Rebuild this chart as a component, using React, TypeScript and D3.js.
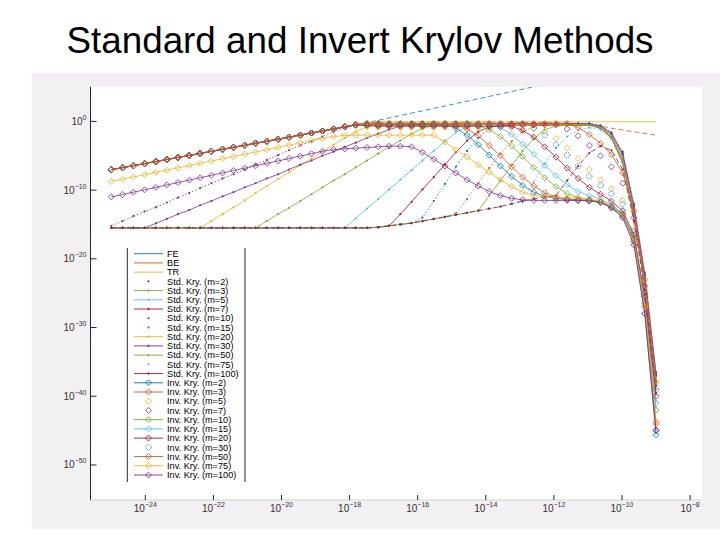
import React, { useEffect, useRef } from 'react';
import * as d3 from 'd3';

// log10 of the step size h (50 points, 1e-25 ... 1e-9)
const logH = [-25.0, -24.67, -24.35, -24.02, -23.69, -23.37, -23.04, -22.71, -22.39, -22.06, -21.73, -21.41, -21.08, -20.76, -20.43, -20.1, -19.78, -19.45, -19.12, -18.8, -18.47, -18.14, -17.82, -17.49, -17.16, -16.84, -16.51, -16.18, -15.86, -15.53, -15.2, -14.88, -14.55, -14.22, -13.9, -13.57, -13.24, -12.92, -12.59, -12.27, -11.94, -11.61, -11.29, -10.96, -10.63, -10.31, -9.98, -9.65, -9.33, -9.0];

// shared rising part of the top line (i = 0..21), log10 values
const topLeft = [-7.03, -6.73, -6.44, -6.14, -5.84, -5.55, -5.25, -4.95, -4.66, -4.36, -4.06, -3.77, -3.47, -3.18, -2.88, -2.58, -2.29, -1.99, -1.69, -1.4, -1.1, -0.79];

const fe = [...topLeft, -0.5, -0.2, 0.15, 0.5, 0.85, 1.2, 1.54, 1.89, 2.24, 2.59, 2.94, 3.29, 3.64, 3.99, 4.35, 4.69, 5.04, 5.39, 5.74, 6.09, 6.44, 6.79, 7.15, 7.49, 7.84, 8.19, 8.54, 8.89];
const be = [...topLeft, -0.45, -0.25, -0.15, -0.1, -0.1, -0.1, -0.1, -0.1, -0.1, -0.1, -0.1, -0.1, -0.1, -0.1, -0.12, -0.14, -0.16, -0.18, -0.2, -0.24, -0.3, -0.45, -0.7, -0.98, -1.25, -1.5, -1.75, -2.0];
const tr = [...topLeft, -0.4, -0.15, -0.05, -0.05, -0.05, -0.05, -0.05, -0.05, -0.05, -0.05, -0.05, -0.05, -0.05, -0.05, -0.05, -0.05, -0.05, -0.05, -0.05, -0.05, -0.05, -0.05, -0.05, -0.05, -0.05, -0.05, -0.05, -0.05];

const std2 = [-15.2, -14.5, -13.8, -13.1, -12.5, -11.8, -11.1, -10.4, -9.7, -9.0, -8.3, -7.7, -7.0, -6.3, -5.6, -4.9, -4.2, -3.5, -2.9, -2.2, -1.5, -0.9, -0.5, -0.3, -0.3, -0.3, -0.3, -0.3, -0.3, -0.3, -0.3, -0.3, -0.3, -0.3, -0.3, -0.3, -0.3, -0.3, -0.3, -0.3, -0.3, -0.3, -0.3, -0.3, -0.6, -1.6, -4.4, -12.0, -22.0, -36.5];
const std3 = [-15.5, -15.5, -15.5, -15.5, -15.5, -15.5, -15.5, -15.5, -15.5, -15.5, -15.5, -15.5, -15.5, -15.5, -14.5, -13.5, -12.6, -11.6, -10.6, -9.6, -8.6, -7.7, -6.7, -5.7, -4.7, -3.7, -2.8, -1.8, -1.0, -0.65, -0.5, -0.5, -0.5, -0.5, -0.5, -0.5, -0.5, -0.5, -0.5, -0.5, -0.5, -0.5, -0.5, -0.5, -0.9, -2.2, -5.6, -13.5, -23.5, -38.0];
const std5 = [-15.5, -15.5, -15.5, -15.5, -15.5, -15.5, -15.5, -15.5, -15.5, -15.5, -15.5, -15.5, -15.5, -15.5, -15.5, -15.5, -15.5, -15.5, -15.5, -15.5, -15.5, -15.5, -14.1, -12.7, -11.3, -9.9, -8.5, -7.1, -5.7, -4.3, -2.9, -1.6, -0.8, -0.5, -0.4, -0.4, -0.4, -0.4, -0.4, -0.4, -0.4, -0.4, -0.4, -0.4, -0.7, -1.9, -5.0, -12.8, -22.8, -37.2];
const std7 = [-15.5, -15.5, -15.5, -15.5, -15.5, -15.5, -15.5, -15.5, -15.5, -15.5, -15.5, -15.5, -15.5, -15.5, -15.5, -15.5, -15.5, -15.5, -15.5, -15.5, -15.5, -15.5, -15.5, -15.5, -15.4, -15.2, -13.5, -11.7, -9.9, -8.1, -6.3, -4.5, -2.8, -1.5, -0.8, -0.6, -0.55, -0.55, -0.55, -0.55, -0.55, -0.55, -0.55, -0.55, -1.0, -2.4, -6.0, -14.0, -24.0, -38.5];
const std10 = [-15.5, -15.5, -15.5, -15.5, -15.5, -15.5, -15.5, -15.5, -15.5, -15.5, -15.5, -15.5, -15.5, -15.5, -15.5, -15.5, -15.5, -15.5, -15.5, -15.5, -15.5, -15.5, -15.5, -15.5, -15.4, -15.2, -15.0, -14.8, -14.0, -11.6, -9.1, -6.6, -4.3, -2.4, -1.1, -0.5, -0.3, -0.3, -0.3, -0.3, -0.3, -0.3, -0.3, -0.3, -0.6, -1.7, -4.6, -12.2, -22.2, -36.8];
const std15 = [-15.5, -15.5, -15.5, -15.5, -15.5, -15.5, -15.5, -15.5, -15.5, -15.5, -15.5, -15.5, -15.5, -15.5, -15.5, -15.5, -15.5, -15.5, -15.5, -15.5, -15.5, -15.5, -15.5, -15.5, -15.4, -15.2, -15.0, -14.8, -14.5, -14.2, -13.9, -13.4, -11.3, -9.0, -6.8, -4.7, -2.9, -1.5, -0.8, -0.5, -0.5, -0.5, -0.5, -0.5, -0.8, -2.1, -5.4, -13.2, -23.2, -37.8];
const std20 = [-15.5, -15.5, -15.5, -15.5, -15.5, -15.5, -15.5, -15.5, -15.5, -14.5, -13.5, -12.5, -11.5, -10.4, -9.4, -8.4, -7.4, -6.4, -5.4, -4.4, -3.4, -2.4, -1.5, -0.8, -0.55, -0.45, -0.45, -0.45, -0.45, -0.45, -0.45, -0.45, -0.45, -0.45, -0.45, -0.45, -0.45, -0.45, -0.45, -0.45, -0.45, -0.45, -0.45, -0.45, -0.8, -2.0, -5.2, -13.0, -23.0, -37.5];
const std30 = [-15.5, -15.5, -15.5, -15.5, -14.85, -14.2, -13.5, -12.9, -12.2, -11.6, -10.9, -10.3, -9.6, -9.0, -8.3, -7.7, -7.0, -6.3, -5.7, -5.0, -4.4, -3.7, -3.1, -2.4, -1.8, -1.2, -0.7, -0.45, -0.35, -0.35, -0.35, -0.35, -0.35, -0.35, -0.35, -0.35, -0.35, -0.35, -0.35, -0.35, -0.35, -0.35, -0.35, -0.35, -0.7, -1.8, -4.8, -12.5, -22.5, -37.0];
const std50 = [-15.5, -15.5, -15.5, -15.5, -15.5, -15.5, -15.5, -15.5, -15.5, -15.5, -15.5, -15.5, -15.5, -15.5, -15.5, -15.5, -15.5, -15.5, -15.5, -15.5, -15.5, -15.5, -15.5, -15.5, -15.4, -15.2, -15.0, -14.8, -14.5, -14.2, -13.9, -13.6, -13.3, -13.0, -10.8, -8.6, -6.4, -4.3, -2.5, -1.2, -0.7, -0.55, -0.55, -0.55, -0.9, -2.3, -5.8, -13.6, -23.6, -38.2];
const std75 = [-15.5, -15.5, -15.5, -15.5, -15.5, -15.5, -15.5, -15.5, -15.5, -15.5, -15.5, -15.5, -15.5, -15.5, -15.5, -15.5, -15.5, -15.5, -15.5, -15.5, -15.5, -15.5, -15.5, -15.5, -15.4, -15.2, -15.0, -14.8, -14.5, -14.2, -13.9, -13.6, -13.3, -13.0, -12.7, -12.4, -12.0, -11.6, -8.8, -6.2, -3.9, -2.2, -1.3, -0.9, -1.2, -2.6, -6.2, -14.2, -24.2, -39.0];
const std100 = [-15.5, -15.5, -15.5, -15.5, -15.5, -15.5, -15.5, -15.5, -15.5, -15.5, -15.5, -15.5, -15.5, -15.5, -15.5, -15.5, -15.5, -15.5, -15.5, -15.5, -15.5, -15.5, -15.5, -15.5, -15.4, -15.2, -15.0, -14.8, -14.5, -14.2, -13.9, -13.6, -13.3, -13.0, -12.7, -12.4, -12.0, -11.6, -11.3, -11.0, -10.8, -8.6, -6.5, -4.6, -3.6, -4.2, -7.0, -14.5, -24.5, -39.5];

const inv2 = [...topLeft, -0.5, -0.35, -0.4, -0.4, -0.4, -0.4, -0.4, -0.4, -0.4, -1.0, -2.0, -3.4, -4.9, -6.5, -8.0, -9.3, -10.3, -10.9, -11.2, -11.4, -11.5, -11.6, -11.8, -12.5, -13.8, -17.5, -28.0, -45.6];
const inv3 = [...topLeft, -0.5, -0.4, -0.5, -0.5, -0.5, -0.5, -0.5, -0.5, -0.5, -0.5, -1.1, -2.1, -3.5, -5.0, -6.6, -8.1, -9.4, -10.4, -11.0, -11.3, -11.4, -11.5, -11.7, -12.4, -13.6, -17.2, -27.0, -44.0];
const inv5 = [...topLeft, -0.6, -0.8, -0.9, -0.9, -0.9, -0.9, -0.9, -0.9, -0.9, -0.9, -0.9, -0.9, -0.9, -0.9, -0.9, -0.9, -0.9, -1.5, -2.5, -3.9, -5.4, -7.0, -8.5, -9.8, -11.5, -15.5, -24.5, -43.7];
const inv7 = [...topLeft, -0.5, -0.45, -0.5, -0.5, -0.5, -0.5, -0.5, -0.5, -0.5, -0.5, -0.5, -0.5, -0.5, -0.5, -0.5, -0.5, -0.5, -0.5, -0.5, -1.1, -2.1, -3.5, -5.0, -6.6, -9.0, -14.0, -24.0, -44.9];
const inv10 = [...topLeft, -0.5, -0.45, -0.6, -0.6, -0.6, -0.6, -0.6, -0.6, -0.6, -0.6, -0.6, -0.6, -1.2, -2.2, -3.6, -5.1, -6.7, -8.2, -9.5, -10.5, -11.1, -11.4, -11.7, -12.3, -13.5, -17.0, -26.5, -42.0];
const inv15 = [...topLeft, -0.5, -0.3, -0.3, -0.3, -0.3, -0.3, -0.3, -0.3, -0.3, -0.3, -0.3, -0.3, -0.3, -0.9, -1.9, -3.3, -4.8, -6.4, -7.9, -9.2, -10.2, -10.8, -11.3, -12.1, -13.4, -16.8, -26.0, -41.0];
const inv20 = [...topLeft, -0.55, -0.6, -0.7, -0.7, -0.7, -0.7, -0.7, -0.7, -0.7, -0.7, -0.7, -0.7, -0.7, -0.7, -0.7, -1.3, -2.3, -3.7, -5.2, -6.8, -8.3, -9.6, -10.6, -11.6, -13.0, -16.5, -25.5, -40.0];
const inv30 = [...topLeft, -0.5, -0.4, -0.4, -0.4, -0.4, -0.4, -0.4, -0.4, -0.4, -0.4, -0.4, -0.4, -0.4, -0.4, -0.4, -0.4, -1.0, -2.0, -3.4, -4.9, -6.5, -8.0, -9.3, -10.5, -12.0, -16.0, -25.0, -39.0];
const inv50 = [...topLeft, -0.45, -0.3, -0.3, -0.3, -0.3, -0.3, -0.3, -0.3, -0.3, -0.3, -0.3, -0.3, -0.3, -0.3, -0.3, -0.3, -0.3, -0.3, -0.3, -0.3, -0.9, -1.9, -3.2, -4.8, -7.5, -13.0, -23.0, -38.0];
const inv75 = [-8.74, -8.41, -8.08, -7.75, -7.42, -7.09, -6.76, -6.43, -6.1, -5.77, -5.44, -5.11, -4.78, -4.45, -4.12, -3.79, -3.46, -3.13, -2.8, -2.47, -2.2, -2.05, -2.0, -2.0, -2.0, -2.0, -2.0, -2.0, -2.0, -2.0, -3.0, -4.1, -5.2, -6.3, -7.4, -8.5, -9.5, -10.3, -10.8, -11.0, -11.1, -11.1, -11.2, -11.3, -11.6, -12.3, -13.8, -17.5, -27.0, -43.7];
const inv100 = [-11.0, -10.65, -10.3, -9.95, -9.6, -9.25, -8.9, -8.55, -8.2, -7.85, -7.5, -7.15, -6.8, -6.45, -6.1, -5.75, -5.4, -5.05, -4.7, -4.35, -4.1, -4.0, -3.9, -3.8, -3.7, -3.6, -3.6, -3.7, -4.5, -5.5, -6.5, -7.5, -8.5, -9.4, -10.2, -10.8, -11.2, -11.4, -11.5, -11.5, -11.5, -11.5, -11.5, -11.5, -11.8, -12.6, -14.0, -18.0, -28.0, -45.0];

const xTicks = [-24, -22, -20, -18, -16, -14, -12, -10, -8];
const yTicks = [-50, -40, -30, -20, -10, 0];

const palette = ['#0072BD', '#D95319', '#EDB120', '#7E2F8E', '#77AC30', '#4DBEEE', '#A2142F'];

type LineKind = 'solid' | 'dash' | 'dot' | 'none';
type MarkerKind = 'none' | 'dot' | 'diamond' | 'circle';
interface Series { name: string; values: number[]; line: LineKind; marker: MarkerKind; legendLine: boolean }

const series: Series[] = [
  { name: 'FE', values: fe, line: 'dash', marker: 'none', legendLine: true },
  { name: 'BE', values: be, line: 'dash', marker: 'none', legendLine: true },
  { name: 'TR', values: tr, line: 'solid', marker: 'none', legendLine: true },
  { name: 'Std. Kry. (m=2)', values: std2, line: 'dot', marker: 'dot', legendLine: false },
  { name: 'Std. Kry. (m=3)', values: std3, line: 'solid', marker: 'dot', legendLine: true },
  { name: 'Std. Kry. (m=5)', values: std5, line: 'solid', marker: 'dot', legendLine: true },
  { name: 'Std. Kry. (m=7)', values: std7, line: 'solid', marker: 'dot', legendLine: true },
  { name: 'Std. Kry. (m=10)', values: std10, line: 'dot', marker: 'dot', legendLine: false },
  { name: 'Std. Kry. (m=15)', values: std15, line: 'dot', marker: 'dot', legendLine: false },
  { name: 'Std. Kry. (m=20)', values: std20, line: 'solid', marker: 'dot', legendLine: true },
  { name: 'Std. Kry. (m=30)', values: std30, line: 'solid', marker: 'dot', legendLine: true },
  { name: 'Std. Kry. (m=50)', values: std50, line: 'solid', marker: 'dot', legendLine: true },
  { name: 'Std. Kry. (m=75)', values: std75, line: 'dot', marker: 'dot', legendLine: false },
  { name: 'Std. Kry. (m=100)', values: std100, line: 'dash', marker: 'dot', legendLine: true },
  { name: 'Inv. Kry. (m=2)', values: inv2, line: 'solid', marker: 'diamond', legendLine: true },
  { name: 'Inv. Kry. (m=3)', values: inv3, line: 'solid', marker: 'diamond', legendLine: true },
  { name: 'Inv. Kry. (m=5)', values: inv5, line: 'none', marker: 'diamond', legendLine: false },
  { name: 'Inv. Kry. (m=7)', values: inv7, line: 'none', marker: 'diamond', legendLine: false },
  { name: 'Inv. Kry. (m=10)', values: inv10, line: 'solid', marker: 'diamond', legendLine: true },
  { name: 'Inv. Kry. (m=15)', values: inv15, line: 'solid', marker: 'diamond', legendLine: true },
  { name: 'Inv. Kry. (m=20)', values: inv20, line: 'solid', marker: 'diamond', legendLine: true },
  { name: 'Inv. Kry. (m=30)', values: inv30, line: 'none', marker: 'circle', legendLine: false },
  { name: 'Inv. Kry. (m=50)', values: inv50, line: 'solid', marker: 'diamond', legendLine: true },
  { name: 'Inv. Kry. (m=75)', values: inv75, line: 'solid', marker: 'diamond', legendLine: true },
  { name: 'Inv. Kry. (m=100)', values: inv100, line: 'solid', marker: 'diamond', legendLine: true },
];

const dashOf = (k: LineKind) => (k === 'dash' ? '5,3' : k === 'dot' ? '1.5,2' : null);

const drawMarker = (
  g: d3.Selection<SVGGElement, unknown, null, undefined>,
  kind: MarkerKind, cx: number, cy: number, color: string,
) => {
  if (kind === 'dot') {
    g.append('circle').attr('cx', cx).attr('cy', cy).attr('r', 1.1).attr('fill', color);
  } else if (kind === 'diamond') {
    const r = 3;
    g.append('path')
      .attr('d', `M${cx},${cy - r}L${cx + r},${cy}L${cx},${cy + r}L${cx - r},${cy}Z`)
      .attr('fill', 'none').attr('stroke', color).attr('stroke-width', 0.8);
  } else if (kind === 'circle') {
    g.append('circle').attr('cx', cx).attr('cy', cy).attr('r', 2.7)
      .attr('fill', 'none').attr('stroke', color).attr('stroke-width', 0.8).attr('stroke-dasharray', '1.2,1');
  }
};

const App: React.FC = () => {
  const svgRef = useRef<SVGSVGElement>(null);

  useEffect(() => {
    if (!svgRef.current) return;
    const svg = d3.select(svgRef.current);
    svg.selectAll('*').remove();

    const width = 720;
    const height = 540;
    const plot = { left: 90.5, right: 702, top: 86.7, bottom: 500 };

    svg.attr('width', width).attr('height', height);

    // slide + figure backgrounds
    svg.append('rect').attr('width', width).attr('height', height).attr('fill', '#ffffff');
    svg.append('rect').attr('x', 31.7).attr('y', 72.7).attr('width', width - 31.7).attr('height', 529 - 72.7)
      .attr('fill', '#f3f0f4');
    svg.append('rect').attr('x', plot.left).attr('y', plot.top)
      .attr('width', plot.right - plot.left).attr('height', plot.bottom - plot.top).attr('fill', '#ffffff');

    svg.append('text')
      .attr('x', 360).attr('y', 53)
      .attr('text-anchor', 'middle')
      .attr('textLength', 587).attr('lengthAdjust', 'spacingAndGlyphs')
      .style('font-family', "'Liberation Sans', Arial, sans-serif")
      .style('font-size', '36px')
      .attr('fill', '#000')
      .text('Standard and Invert Krylov Methods');

    const x = d3.scaleLog().domain([10 ** -25.61, 10 ** -7.65]).range([plot.left, plot.right]);
    const y = d3.scaleLog().domain([10 ** -55.1, 10 ** 5.05]).range([plot.bottom, plot.top]);

    svg.append('clipPath').attr('id', 'plot-clip')
      .append('rect').attr('x', plot.left).attr('y', plot.top)
      .attr('width', plot.right - plot.left).attr('height', plot.bottom - plot.top);

    const g = svg.append('g').attr('clip-path', 'url(#plot-clip)');
    const line = d3.line<number>()
      .x((_, i) => x(10 ** logH[i]))
      .y((d) => y(10 ** d));

    series.forEach((s, k) => {
      const color = palette[k % palette.length];
      if (s.line !== 'none') {
        const p = g.append('path')
          .attr('d', line(s.values))
          .attr('fill', 'none')
          .attr('stroke', color)
          .attr('stroke-width', 0.8);
        const dash = dashOf(s.line);
        if (dash) p.attr('stroke-dasharray', dash);
      }
      if (s.marker !== 'none') {
        const mg = g.append('g');
        s.values.forEach((v, i) => drawMarker(mg, s.marker, x(10 ** logH[i]), y(10 ** v), color));
      }
    });

    // axes
    const axisColor = '#262626';
    const labelFont = "'Liberation Sans', Arial, sans-serif";
    svg.append('line').attr('x1', plot.left).attr('x2', plot.left).attr('y1', plot.top).attr('y2', plot.bottom)
      .attr('stroke', axisColor).attr('stroke-width', 1);
    svg.append('line').attr('x1', plot.left).attr('x2', plot.right).attr('y1', plot.bottom).attr('y2', plot.bottom)
      .attr('stroke', '#bbbbbb').attr('stroke-width', 0.6);

    yTicks.forEach((t) => {
      const py = y(10 ** t);
      svg.append('line').attr('x1', plot.left).attr('x2', plot.left + 6).attr('y1', py).attr('y2', py)
        .attr('stroke', axisColor).attr('stroke-width', 1);
      const txt = svg.append('text').attr('x', 86.5).attr('y', py + 3.5).attr('text-anchor', 'end')
        .style('font-family', labelFont).style('font-size', '10px').attr('fill', '#333');
      txt.append('tspan').text('10');
      txt.append('tspan').attr('dy', -5).style('font-size', '7px').text(t === 0 ? '0' : `\u2212${-t}`);
    });

    xTicks.forEach((t) => {
      const px = x(10 ** t);
      svg.append('line').attr('x1', px).attr('x2', px).attr('y1', plot.bottom).attr('y2', plot.bottom - 5)
        .attr('stroke', axisColor).attr('stroke-width', 1);
      const txt = svg.append('text').attr('x', px).attr('y', 512).attr('text-anchor', 'middle')
        .style('font-family', labelFont).style('font-size', '10px').attr('fill', '#333');
      txt.append('tspan').text('10');
      txt.append('tspan').attr('dy', -5).style('font-size', '7px').text(`\u2212${-t}`);
    });

    // legend
    const lg = svg.append('g');
    const lgTop = 248;
    const lgBottom = 482;
    lg.append('rect').attr('x', 127.3).attr('y', lgTop).attr('width', 245 - 127.3).attr('height', lgBottom - lgTop)
      .attr('fill', '#ffffff');
    [127.3, 245].forEach((lx) => {
      lg.append('line').attr('x1', lx).attr('x2', lx).attr('y1', lgTop).attr('y2', lgBottom)
        .attr('stroke', axisColor).attr('stroke-width', 1);
    });
    const rowY = d3.scaleLinear().domain([0, series.length - 1]).range([253.7, 475]);
    series.forEach((s, k) => {
      const color = palette[k % palette.length];
      const ry = rowY(k);
      if (s.legendLine) {
        lg.append('line').attr('x1', 134).attr('x2', 163).attr('y1', ry).attr('y2', ry)
          .attr('stroke', color).attr('stroke-width', 0.9);
      }
      drawMarker(lg, s.marker, 148.5, ry, color);
      lg.append('text').attr('x', 167).attr('y', ry + 3.2)
        .style('font-family', labelFont).style('font-size', '9.2px').attr('fill', '#000')
        .text(s.name);
    });
  }, []);

  return (
    <div>
      <svg ref={svgRef} style={{ position: 'absolute', left: 0, top: 0, display: 'block' }}></svg>
    </div>
  );
};

export default App;
